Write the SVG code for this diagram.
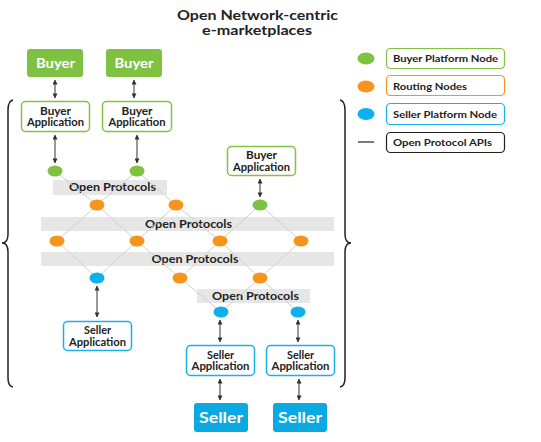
<svg xmlns="http://www.w3.org/2000/svg" width="541" height="442" viewBox="0 0 541 442">
<defs>
<marker id="ah" viewBox="0 0 6 6" refX="5.5" refY="3" markerWidth="5" markerHeight="5" markerUnits="userSpaceOnUse" orient="auto-start-reverse"><path d="M0,0 L6,3 L0,6 z" fill="#333"/></marker>
</defs>
<style>
text{font-family:Lato,"Liberation Sans",sans-serif;font-weight:bold;text-anchor:middle}
.title{font-size:12.5px;fill:#222}
.bx{font-size:13.5px;fill:#fff}
.app{font-size:10.5px;fill:#222}
.band{fill:#e6e6e6}
.bt{font-size:10.5px;fill:#222}
.lg{font-size:10px;fill:#222;text-anchor:start}
.gapp{fill:#fff;stroke:#82c341;stroke-width:1.5}
.sapp{fill:#fff;stroke:#1ab0ea;stroke-width:1.5}
.gn{fill:#7fc241}.on{fill:#f7941e}.bn{fill:#0db0ec}
.link{stroke:#cfcfcf;stroke-width:1;fill:none}
.arr{stroke:#333;stroke-width:1;marker-start:url(#ah);marker-end:url(#ah)}
.brace{fill:none;stroke:#222;stroke-width:1.5}
</style>
<g id="title"><text class="title" x="257.5" y="19.5" textLength="161" lengthAdjust="spacingAndGlyphs">Open Network-centric</text><text class="title" x="257" y="34.5" textLength="110" lengthAdjust="spacingAndGlyphs">e-marketplaces</text></g>
<g id="braces"><path class="brace" d="M13,100 Q8,101 8,110 L8,234 Q8,243 2,243 Q8,243 8,252 L8,378 Q8,386 13,387"/><path class="brace" d="M340,100 Q345,101 345,110 L345,234 Q345,243 351,243 Q345,243 345,252 L345,378 Q345,386 340,387"/></g>
<g id="bands">
<rect class="band" x="53" y="180" width="114" height="15"/><text class="bt" x="112.5" y="191" textLength="87" lengthAdjust="spacingAndGlyphs">Open Protocols</text>
<rect class="band" x="41" y="217" width="293" height="14"/><text class="bt" x="188.5" y="227.5" textLength="87" lengthAdjust="spacingAndGlyphs">Open Protocols</text>
<rect class="band" x="41" y="252" width="293" height="14"/><text class="bt" x="195" y="262.5" textLength="87" lengthAdjust="spacingAndGlyphs">Open Protocols</text>
<rect class="band" x="197" y="289" width="113" height="14"/><text class="bt" x="255.5" y="299.5" textLength="87" lengthAdjust="spacingAndGlyphs">Open Protocols</text>
</g>
<g id="connectors">
<path class="link" d="M55,171 L97,205 M137,171 L97,205 M137,171 L176,205 M97,205 L57,241 M97,205 L137,241 M176,205 L137,241 M176,205 L220,241 M260,205 L220,241 M260,205 L301,241 M57,241 L97,278 M137,241 L97,278 M137,241 L180,278 M220,241 L180,278 M220,241 L260,278 M301,241 L260,278 M180,278 L221,312 M260,278 L221,312 M260,278 L298,312"/>
<line class="arr" x1="55" y1="80" x2="55" y2="98"/>
<line class="arr" x1="134" y1="80" x2="134" y2="98"/>
<line class="arr" x1="55" y1="135" x2="55" y2="163"/>
<line class="arr" x1="137" y1="135" x2="137" y2="163"/>
<line class="arr" x1="260" y1="179" x2="260" y2="197"/>
<line class="arr" x1="97" y1="286" x2="97" y2="317"/>
<line class="arr" x1="220" y1="320" x2="220" y2="342"/>
<line class="arr" x1="298" y1="320" x2="298" y2="342"/>
<line class="arr" x1="220" y1="379" x2="220" y2="400"/>
<line class="arr" x1="299" y1="379" x2="299" y2="400"/>
</g>
<g id="buyer1"><rect x="27" y="49" width="56" height="28" rx="3" fill="#7fc241"/><text class="bx" x="55.5" y="68" textLength="39" lengthAdjust="spacingAndGlyphs">Buyer</text></g>
<g id="buyer2"><rect x="106" y="49" width="56" height="28" rx="3" fill="#7fc241"/><text class="bx" x="134" y="68" textLength="39" lengthAdjust="spacingAndGlyphs">Buyer</text></g>
<g id="buyerapp1"><rect class="gapp" x="21.5" y="101.5" width="68" height="30" rx="4"/><text class="app" x="55.5" y="114.5" textLength="31" lengthAdjust="spacingAndGlyphs">Buyer</text><text class="app" x="55.5" y="126" textLength="57" lengthAdjust="spacingAndGlyphs">Application</text></g>
<g id="buyerapp2"><rect class="gapp" x="102.5" y="101.5" width="69" height="30" rx="4"/><text class="app" x="137" y="114.5" textLength="31" lengthAdjust="spacingAndGlyphs">Buyer</text><text class="app" x="137" y="126" textLength="57" lengthAdjust="spacingAndGlyphs">Application</text></g>
<g id="buyerapp3"><rect class="gapp" x="227.5" y="146.5" width="68" height="29" rx="4"/><text class="app" x="261.5" y="159" textLength="31" lengthAdjust="spacingAndGlyphs">Buyer</text><text class="app" x="261.5" y="170.5" textLength="57" lengthAdjust="spacingAndGlyphs">Application</text></g>
<g id="g1"><ellipse class="gn" cx="55" cy="171" rx="7.5" ry="5.5"/></g>
<g id="g2"><ellipse class="gn" cx="137" cy="171" rx="7.5" ry="5.5"/></g>
<g id="g3"><ellipse class="gn" cx="260" cy="205" rx="7.5" ry="5.5"/></g>
<g id="o1"><ellipse class="on" cx="97" cy="205" rx="7.5" ry="5.5"/></g>
<g id="o2"><ellipse class="on" cx="176" cy="205" rx="7.5" ry="5.5"/></g>
<g id="o3"><ellipse class="on" cx="57" cy="241" rx="7.5" ry="5.5"/></g>
<g id="o4"><ellipse class="on" cx="137" cy="241" rx="7.5" ry="5.5"/></g>
<g id="o5"><ellipse class="on" cx="220" cy="241" rx="7.5" ry="5.5"/></g>
<g id="o6"><ellipse class="on" cx="301" cy="241" rx="7.5" ry="5.5"/></g>
<g id="b1"><ellipse class="bn" cx="97" cy="278" rx="7.5" ry="5.5"/></g>
<g id="o7"><ellipse class="on" cx="180" cy="278" rx="7.5" ry="5.5"/></g>
<g id="o8"><ellipse class="on" cx="260" cy="278" rx="7.5" ry="5.5"/></g>
<g id="b2"><ellipse class="bn" cx="221" cy="312" rx="7.5" ry="5.5"/></g>
<g id="b3"><ellipse class="bn" cx="298" cy="312" rx="7.5" ry="5.5"/></g>
<g id="sellerapp1"><rect class="sapp" x="63.5" y="321.5" width="68" height="29" rx="4"/><text class="app" x="97.5" y="334" textLength="27" lengthAdjust="spacingAndGlyphs">Seller</text><text class="app" x="97.5" y="345.5" textLength="57" lengthAdjust="spacingAndGlyphs">Application</text></g>
<g id="sellerapp2"><rect class="sapp" x="186.5" y="345.5" width="68" height="30" rx="4"/><text class="app" x="220.5" y="358.5" textLength="27" lengthAdjust="spacingAndGlyphs">Seller</text><text class="app" x="220.5" y="370" textLength="58" lengthAdjust="spacingAndGlyphs">Application</text></g>
<g id="sellerapp3"><rect class="sapp" x="266.5" y="345.5" width="68" height="30" rx="4"/><text class="app" x="300.5" y="358.5" textLength="27" lengthAdjust="spacingAndGlyphs">Seller</text><text class="app" x="300.5" y="370" textLength="58" lengthAdjust="spacingAndGlyphs">Application</text></g>
<g id="seller1"><rect x="194" y="403" width="54" height="29" rx="3" fill="#0aa9e1"/><text class="bx" x="221" y="422.5" style="font-size:14.5px" textLength="44" lengthAdjust="spacingAndGlyphs">Seller</text></g>
<g id="seller2"><rect x="273" y="403" width="54" height="29" rx="3" fill="#0aa9e1"/><text class="bx" x="300" y="422.5" style="font-size:14.5px" textLength="44" lengthAdjust="spacingAndGlyphs">Seller</text></g>
<g id="legend">
<ellipse class="gn" cx="366" cy="58.5" rx="8.5" ry="6"/>
<rect x="386.5" y="48.5" width="118" height="20" rx="4" fill="#fff" stroke="#82c341" stroke-width="1.2"/>
<text class="lg" x="393" y="62" textLength="105" lengthAdjust="spacingAndGlyphs">Buyer Platform Node</text>
<ellipse class="on" cx="366" cy="86.5" rx="8.5" ry="6"/>
<rect x="386.5" y="75.5" width="118" height="20" rx="4" fill="#fff" stroke="#f7941e" stroke-width="1.2"/>
<text class="lg" x="393" y="89.5" textLength="74" lengthAdjust="spacingAndGlyphs">Routing Nodes</text>
<ellipse class="bn" cx="366" cy="114" rx="8.5" ry="6"/>
<rect x="386.5" y="103.5" width="118" height="21" rx="4" fill="#fff" stroke="#1ab0ea" stroke-width="1.2"/>
<text class="lg" x="393" y="117.5" textLength="104" lengthAdjust="spacingAndGlyphs">Seller Platform Node</text>
<line x1="358" y1="142" x2="374" y2="142" stroke="#222" stroke-width="1.2"/>
<rect x="386.5" y="132.5" width="118" height="20" rx="4" fill="#fff" stroke="#222" stroke-width="1.2"/>
<text class="lg" x="393" y="146" textLength="99" lengthAdjust="spacingAndGlyphs">Open Protocol APIs</text>
</g>
</svg>
